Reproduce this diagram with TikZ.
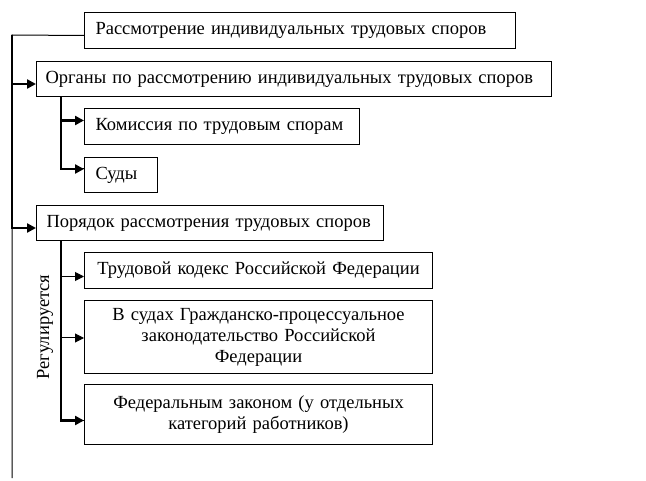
\documentclass[tikz,border=0pt]{standalone}
\usepackage{fontspec}
\setmainfont{Liberation Serif}
\usetikzlibrary{arrows.meta}

\begin{document}
\begin{tikzpicture}[x=1pt,y=-1pt,
  box/.style={draw,line width=1pt,inner ysep=0pt,minimum height=36pt,anchor=north west},
  lbox/.style={box,align=left},
  cbox/.style={box,align=center},
  ln/.style={line width=1pt},
  arr/.style={line width=2.6pt,-{Triangle[length=9pt,width=9pt]}},
  tarr/.style={line width=1pt,-{Triangle[length=9pt,width=9pt]}}]
\useasboundingbox (0,0) rectangle (646,481);
\fontsize{18.5}{21}\selectfont
\node[lbox,inner xsep=11pt,text width=409pt] (rass) at (84,12) {Рассмотрение индивидуальных трудовых споров};
\node[lbox,inner xsep=9pt,text width=497pt,minimum height=35pt] (organy) at (36,61) {Органы по рассмотрению индивидуальных трудовых споров};
\node[lbox,inner xsep=11pt,text width=253pt] (komis) at (84,108) {Комиссия по трудовым спорам};
\node[lbox,inner xsep=11pt,text width=51pt,minimum height=35pt] (sudy) at (84,157) {Суды};
\node[lbox,inner xsep=10pt,text width=327pt,minimum height=35pt] (poryadok) at (36,205) {Порядок рассмотрения трудовых споров};
\node[cbox,inner xsep=6pt,text width=336pt] (tk) at (84,252) {Трудовой кодекс Российской Федерации};
\node[cbox,inner xsep=6pt,text width=336pt,minimum height=73pt] (gpk) at (84,300) {В судах Гражданско-процессуальное\\законодательство Российской\\Федерации};
\node[cbox,inner xsep=6pt,text width=336pt,minimum height=60pt] (fz) at (84,384) {Федеральным законом (у отдельных\\категорий работников)};
\node[rotate=90] (reg) at (45,327) {Регулируется};
\coordinate (mtop) at (12,35);
\coordinate (mbot) at (12,478);
\draw[ln] ([yshift=-5pt]rass.west) -- (mtop) -- (mbot);
\draw[arr] (mtop) |- ([yshift=-5pt]organy.west);
\draw[arr] (mtop) |- ([yshift=-5pt]poryadok.west);
\draw[ln] ([xshift=25pt]organy.south west) |- ([yshift=6pt]sudy.west);
\draw[arr] ([xshift=25pt]organy.south west) |- ([yshift=6pt]komis.west);
\draw[arr] ([xshift=25pt]organy.south west) |- ([yshift=6pt]sudy.west);
\draw[ln] ([xshift=25pt]poryadok.south west) |- ([yshift=-6pt]fz.west);
\draw[tarr] ([xshift=25pt]poryadok.south west) |- ([yshift=-6pt]tk.west);
\draw[tarr] ([xshift=25pt]poryadok.south west) |- ([yshift=-1pt]gpk.west);
\draw[arr] ([xshift=25pt]poryadok.south west) |- ([yshift=-6pt]fz.west);
\end{tikzpicture}
\end{document}
